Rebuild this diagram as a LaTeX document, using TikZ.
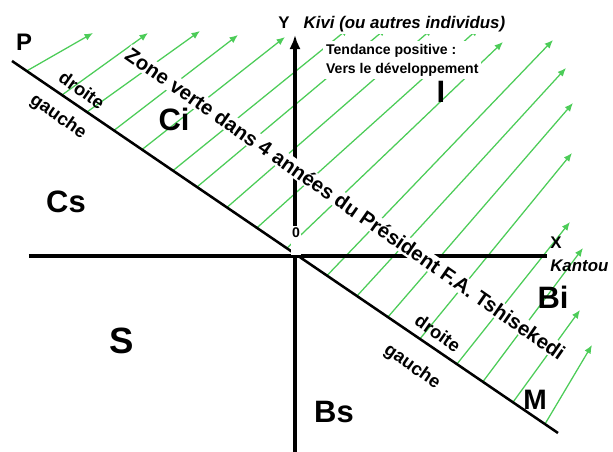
\documentclass[tikz,border=0pt]{standalone}
\usepackage{fontspec}
\setmainfont{Liberation Sans}
\usetikzlibrary{arrows.meta}
\definecolor{vertclair}{RGB}{76,204,88}

\begin{document}
\begin{tikzpicture}[scale=1.0,
  vert/.style={draw=vertclair,line width=0.9pt,-{Latex[length=6pt,width=5pt]}},
  axe/.style={line width=2.6pt},
  lettre/.style={inner sep=0pt,font=\bfseries\fontsize{22}{24}\selectfont},
  cote/.style={inner sep=0pt,rotate=-35,font=\bfseries\fontsize{13}{14}\selectfont},
  repere/.style={inner sep=0pt,font=\bfseries\fontsize{12}{14}\selectfont}]
\useasboundingbox (-7.375,-4.9) rectangle (7.95,6.4);
\draw[vert] (-6.70,4.63) -- (-5.05,5.575);
\draw[vert] (-5.825,4.025) -- (-3.675,5.575);
\draw[vert] (-5.20,3.60) -- (-2.375,5.625);
\draw[vert] (-4.525,3.14) -- (-1.425,5.525);
\draw[vert] (-3.825,2.66) -- (-0.25,5.475);
\draw[vert] (-3.05,2.135) -- (1.35,5.70);
\draw[vert] (-2.45,1.725) -- (2.29,5.70);
\draw[vert] (-1.70,1.215) -- (3.45,5.70);
\draw[vert] (-0.95,0.705) -- (4.60,5.70);
\draw[vert] (-0.20,0.195) -- (5.20,5.35);
\draw[vert] (0.80,-0.49) -- (6.45,5.40);
\draw[vert] (1.55,-1.00) -- (6.775,4.70);
\draw[vert] (2.325,-1.525) -- (6.95,3.825);
\draw[vert] (3.125,-2.07) -- (6.925,2.575);
\draw[vert] (4.05,-2.70) -- (6.875,0.85);
\draw[vert] (4.70,-3.14) -- (7.20,0.20);
\draw[vert] (5.45,-3.655) -- (7.125,-1.35);
\draw[vert] (6.25,-4.20) -- (7.425,-2.225);
\draw[axe] (-6.65,0) -- (6.30,0);
\draw[axe,-{Latex[length=10pt,width=8pt]}] (0,-4.9) -- (0,5.525);
\coordinate (pbord) at (-7.075,4.875);
\coordinate (mbord) at (6.575,-4.425);
\draw[line width=1.8pt] (pbord) -- (mbord);
\node[repere,font=\bfseries\fontsize{17}{19}\selectfont] (p) at (-6.775,5.35) {P};
\node[repere,font=\bfseries\fontsize{20}{22}\selectfont] (m) at (6.0,-3.6) {M};
\node[repere,font=\bfseries\fontsize{10}{12}\selectfont,anchor=base,fill=white,text height=7.2pt,text depth=11pt,inner xsep=0.5pt,inner ysep=1pt] (o) at (0.025,0.45) {0};
\node[repere] (x) at (6.525,0.34) {X};
\node[repere] (y) at (-0.275,5.84) {Y};
\node[repere,anchor=base west,fill=white,inner sep=1pt] (kivi) at (0.175,5.675) {\itshape Kivi (ou autres individus)};
\node[repere,anchor=base west] (kantou) at (6.375,-0.4) {\itshape Kantou};
\node[anchor=north west,fill=white,inner sep=2pt,align=left,font=\bfseries\fontsize{10}{13.5}\selectfont] (tendance) at (0.70,5.375) {Tendance positive :\\Vers le développement};
\node[rotate=-34.8,fill=white,inner sep=1pt,font=\bfseries\fontsize{14.5}{16}\selectfont] (zone) at (1.26,1.31) {Zone verte dans 4 années du Président F.A. Tshisekedi};
\node[cote] (droite1) at (-5.325,4.15) {droite};
\node[cote] (gauche1) at (-5.925,3.475) {gauche};
\node[cote] (droite2) at (3.575,-1.925) {droite};
\node[cote] (gauche2) at (2.925,-2.775) {gauche};
\node[lettre] (ci) at (-3.025,3.425) {Ci};
\node[lettre] (cs) at (-5.725,1.36) {Cs};
\node[lettre,font=\bfseries\fontsize{26}{28}\selectfont] (s) at (-4.325,-2.125) {S};
\node[lettre] (bs) at (0.975,-3.89) {Bs};
\node[lettre] (bi) at (6.45,-1.04) {Bi};
\node[lettre] (i) at (3.65,4.1) {I};
\end{tikzpicture}
\end{document}
